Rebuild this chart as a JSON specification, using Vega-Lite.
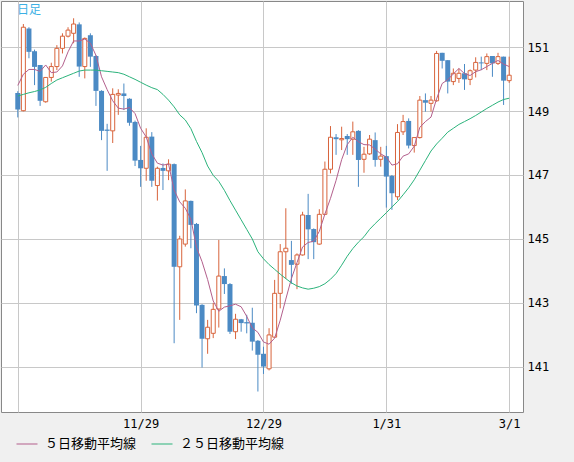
{
  "$schema": "https://vega.github.io/schema/vega-lite/v6.json",
  "width": 522,
  "height": 411,
  "autosize": "none",
  "padding": {"left": 1, "top": 1, "right": 51, "bottom": 50},
  "background": "#f0f0f0",
  "title": {
    "text": "日足",
    "anchor": "start",
    "frame": "group",
    "dx": 16,
    "offset": -16,
    "color": "#3cb0e4",
    "font": "Noto Sans CJK JP",
    "fontSize": 12,
    "fontWeight": "normal"
  },
  "config": {
    "view": {"stroke": "#888888", "fill": "white"}
  },
  "data": {
    "values": [
      {"date": "10/30", "i": 0, "open": 149.56, "high": 149.62, "low": 148.80, "close": 149.05, "ma5": 149.80, "ma25": 149.47},
      {"date": "10/31", "i": 1, "open": 149.01, "high": 151.72, "low": 148.99, "close": 151.62, "ma5": 150.15, "ma25": 149.52},
      {"date": "11/1", "i": 2, "open": 151.58, "high": 151.62, "low": 150.65, "close": 150.85, "ma5": 150.30, "ma25": 149.57},
      {"date": "11/2", "i": 3, "open": 150.87, "high": 150.92, "low": 149.81, "close": 150.38, "ma5": 150.30, "ma25": 149.61},
      {"date": "11/3", "i": 4, "open": 150.44, "high": 150.44, "low": 149.16, "close": 149.32, "ma5": 150.24, "ma25": 149.66},
      {"date": "11/6", "i": 5, "open": 149.29, "high": 150.06, "low": 149.26, "close": 150.05, "ma5": 150.44, "ma25": 149.74},
      {"date": "11/7", "i": 6, "open": 150.05, "high": 150.51, "low": 149.92, "close": 150.39, "ma5": 150.20, "ma25": 149.86},
      {"date": "11/8", "i": 7, "open": 150.39, "high": 151.06, "low": 150.28, "close": 150.96, "ma5": 150.22, "ma25": 149.97},
      {"date": "11/9", "i": 8, "open": 150.96, "high": 151.43, "low": 150.80, "close": 151.34, "ma5": 150.41, "ma25": 150.04},
      {"date": "11/10", "i": 9, "open": 151.34, "high": 151.62, "low": 151.30, "close": 151.53, "ma5": 150.85, "ma25": 150.11},
      {"date": "11/13", "i": 10, "open": 151.43, "high": 151.90, "low": 151.12, "close": 151.72, "ma5": 151.19, "ma25": 150.18},
      {"date": "11/14", "i": 11, "open": 151.71, "high": 151.77, "low": 150.07, "close": 150.39, "ma5": 151.19, "ma25": 150.25},
      {"date": "11/15", "i": 12, "open": 150.39, "high": 151.30, "low": 150.02, "close": 151.27, "ma5": 151.25, "ma25": 150.28},
      {"date": "11/16", "i": 13, "open": 151.37, "high": 151.43, "low": 150.38, "close": 150.70, "ma5": 151.12, "ma25": 150.28},
      {"date": "11/17", "i": 14, "open": 150.72, "high": 150.75, "low": 149.16, "close": 149.63, "ma5": 150.74, "ma25": 150.28},
      {"date": "11/20", "i": 15, "open": 149.63, "high": 149.65, "low": 148.09, "close": 148.38, "ma5": 150.07, "ma25": 150.26},
      {"date": "11/21", "i": 16, "open": 148.42, "high": 148.60, "low": 147.13, "close": 148.38, "ma5": 149.67, "ma25": 150.24},
      {"date": "11/22", "i": 17, "open": 148.38, "high": 149.71, "low": 148.00, "close": 149.52, "ma5": 149.32, "ma25": 150.22},
      {"date": "11/23", "i": 18, "open": 149.50, "high": 149.68, "low": 148.88, "close": 149.55, "ma5": 149.09, "ma25": 150.20},
      {"date": "11/24", "i": 19, "open": 149.55, "high": 149.86, "low": 149.03, "close": 149.47, "ma5": 149.06, "ma25": 150.15},
      {"date": "11/27", "i": 20, "open": 149.38, "high": 149.40, "low": 148.54, "close": 148.63, "ma5": 149.11, "ma25": 150.07},
      {"date": "11/28", "i": 21, "open": 148.66, "high": 148.70, "low": 147.28, "close": 147.45, "ma5": 148.92, "ma25": 149.99},
      {"date": "11/29", "i": 22, "open": 147.47, "high": 147.91, "low": 146.63, "close": 147.21, "ma5": 148.46, "ma25": 149.90},
      {"date": "11/30", "i": 23, "open": 147.21, "high": 148.46, "low": 146.82, "close": 148.18, "ma5": 148.19, "ma25": 149.81},
      {"date": "12/1", "i": 24, "open": 148.20, "high": 148.34, "low": 146.63, "close": 146.82, "ma5": 147.66, "ma25": 149.73},
      {"date": "12/4", "i": 25, "open": 146.67, "high": 147.26, "low": 146.20, "close": 147.21, "ma5": 147.37, "ma25": 149.67},
      {"date": "12/5", "i": 26, "open": 147.22, "high": 147.36, "low": 146.53, "close": 147.13, "ma5": 147.31, "ma25": 149.52},
      {"date": "12/6", "i": 27, "open": 147.13, "high": 147.49, "low": 146.84, "close": 147.34, "ma5": 147.34, "ma25": 149.34},
      {"date": "12/7", "i": 28, "open": 147.34, "high": 147.36, "low": 141.74, "close": 144.13, "ma5": 146.53, "ma25": 149.13},
      {"date": "12/8", "i": 29, "open": 144.13, "high": 145.10, "low": 142.47, "close": 145.00, "ma5": 146.16, "ma25": 148.88},
      {"date": "12/11", "i": 30, "open": 144.84, "high": 146.55, "low": 144.76, "close": 146.19, "ma5": 145.96, "ma25": 148.72},
      {"date": "12/12", "i": 31, "open": 146.19, "high": 146.20, "low": 144.71, "close": 145.44, "ma5": 145.62, "ma25": 148.45},
      {"date": "12/13", "i": 32, "open": 145.47, "high": 145.50, "low": 142.68, "close": 142.92, "ma5": 144.74, "ma25": 148.05},
      {"date": "12/14", "i": 33, "open": 142.94, "high": 142.96, "low": 140.98, "close": 141.88, "ma5": 144.29, "ma25": 147.70},
      {"date": "12/15", "i": 34, "open": 141.88, "high": 142.47, "low": 141.41, "close": 142.24, "ma5": 143.73, "ma25": 147.28},
      {"date": "12/18", "i": 35, "open": 142.05, "high": 143.00, "low": 141.90, "close": 142.80, "ma5": 143.06, "ma25": 146.99},
      {"date": "12/19", "i": 36, "open": 142.81, "high": 144.97, "low": 142.23, "close": 143.84, "ma5": 142.74, "ma25": 146.80},
      {"date": "12/20", "i": 37, "open": 143.84, "high": 144.08, "low": 143.28, "close": 143.59, "ma5": 142.87, "ma25": 146.52},
      {"date": "12/21", "i": 38, "open": 143.59, "high": 143.62, "low": 142.03, "close": 142.10, "ma5": 142.91, "ma25": 146.20},
      {"date": "12/22", "i": 39, "open": 142.10, "high": 142.66, "low": 141.87, "close": 142.49, "ma5": 142.96, "ma25": 145.90},
      {"date": "12/25", "i": 40, "open": 142.49, "high": 142.50, "low": 142.10, "close": 142.37, "ma5": 142.88, "ma25": 145.60},
      {"date": "12/26", "i": 41, "open": 142.40, "high": 142.63, "low": 142.05, "close": 142.36, "ma5": 142.58, "ma25": 145.30},
      {"date": "12/27", "i": 42, "open": 142.38, "high": 142.85, "low": 141.51, "close": 141.79, "ma5": 142.22, "ma25": 145.00},
      {"date": "12/28", "i": 43, "open": 141.82, "high": 141.84, "low": 140.23, "close": 141.38, "ma5": 142.08, "ma25": 144.60},
      {"date": "12/29", "i": 44, "open": 141.41, "high": 141.63, "low": 140.78, "close": 141.01, "ma5": 141.78, "ma25": 144.38},
      {"date": "1/2", "i": 45, "open": 140.94, "high": 142.21, "low": 140.89, "close": 142.00, "ma5": 141.71, "ma25": 144.20},
      {"date": "1/3", "i": 46, "open": 141.93, "high": 143.72, "low": 141.92, "close": 143.30, "ma5": 141.90, "ma25": 144.05},
      {"date": "1/4", "i": 47, "open": 143.30, "high": 144.84, "low": 142.83, "close": 144.60, "ma5": 142.46, "ma25": 143.90},
      {"date": "1/5", "i": 48, "open": 144.60, "high": 145.96, "low": 143.75, "close": 144.71, "ma5": 143.12, "ma25": 143.76},
      {"date": "1/8", "i": 49, "open": 144.34, "high": 144.94, "low": 143.60, "close": 144.19, "ma5": 143.76, "ma25": 143.63},
      {"date": "1/9", "i": 50, "open": 144.21, "high": 144.55, "low": 143.43, "close": 144.50, "ma5": 144.26, "ma25": 143.53},
      {"date": "1/10", "i": 51, "open": 144.50, "high": 145.85, "low": 144.48, "close": 145.75, "ma5": 144.75, "ma25": 143.47},
      {"date": "1/11", "i": 52, "open": 145.75, "high": 146.41, "low": 144.37, "close": 145.30, "ma5": 144.89, "ma25": 143.43},
      {"date": "1/12", "i": 53, "open": 145.31, "high": 145.33, "low": 144.37, "close": 144.90, "ma5": 144.93, "ma25": 143.46},
      {"date": "1/15", "i": 54, "open": 144.84, "high": 145.93, "low": 144.82, "close": 145.77, "ma5": 145.24, "ma25": 143.51},
      {"date": "1/16", "i": 55, "open": 145.77, "high": 147.42, "low": 145.75, "close": 147.18, "ma5": 145.78, "ma25": 143.60},
      {"date": "1/17", "i": 56, "open": 147.18, "high": 148.53, "low": 147.05, "close": 148.18, "ma5": 146.27, "ma25": 143.74},
      {"date": "1/18", "i": 57, "open": 148.18, "high": 148.28, "low": 147.63, "close": 148.12, "ma5": 146.83, "ma25": 143.92},
      {"date": "1/19", "i": 58, "open": 148.10, "high": 148.51, "low": 147.78, "close": 148.14, "ma5": 147.48, "ma25": 144.18},
      {"date": "1/22", "i": 59, "open": 148.22, "high": 148.28, "low": 147.63, "close": 148.12, "ma5": 147.95, "ma25": 144.46},
      {"date": "1/23", "i": 60, "open": 148.12, "high": 148.67, "low": 147.63, "close": 148.35, "ma5": 148.18, "ma25": 144.70},
      {"date": "1/24", "i": 61, "open": 148.38, "high": 148.40, "low": 146.63, "close": 147.47, "ma5": 148.04, "ma25": 144.90},
      {"date": "1/25", "i": 62, "open": 147.49, "high": 147.88, "low": 147.07, "close": 147.65, "ma5": 147.95, "ma25": 145.07},
      {"date": "1/26", "i": 63, "open": 147.66, "high": 148.25, "low": 147.63, "close": 148.12, "ma5": 147.94, "ma25": 145.30},
      {"date": "1/29", "i": 64, "open": 148.09, "high": 148.33, "low": 147.26, "close": 147.47, "ma5": 147.81, "ma25": 145.48},
      {"date": "1/30", "i": 65, "open": 147.49, "high": 147.88, "low": 147.26, "close": 147.59, "ma5": 147.66, "ma25": 145.65},
      {"date": "1/31", "i": 66, "open": 147.59, "high": 147.91, "low": 145.98, "close": 146.95, "ma5": 147.56, "ma25": 145.82},
      {"date": "2/1", "i": 67, "open": 146.97, "high": 147.00, "low": 145.91, "close": 146.43, "ma5": 147.31, "ma25": 146.00},
      {"date": "2/2", "i": 68, "open": 146.32, "high": 148.59, "low": 146.22, "close": 148.33, "ma5": 147.35, "ma25": 146.17},
      {"date": "2/5", "i": 69, "open": 148.35, "high": 148.88, "low": 148.25, "close": 148.67, "ma5": 147.59, "ma25": 146.38},
      {"date": "2/6", "i": 70, "open": 148.69, "high": 148.77, "low": 147.83, "close": 147.92, "ma5": 147.66, "ma25": 146.60},
      {"date": "2/7", "i": 71, "open": 147.92, "high": 148.05, "low": 147.70, "close": 148.17, "ma5": 147.90, "ma25": 146.85},
      {"date": "2/8", "i": 72, "open": 148.17, "high": 149.47, "low": 148.14, "close": 149.34, "ma5": 148.49, "ma25": 147.15},
      {"date": "2/9", "i": 73, "open": 149.34, "high": 149.55, "low": 148.98, "close": 149.26, "ma5": 148.67, "ma25": 147.45},
      {"date": "2/12", "i": 74, "open": 149.24, "high": 149.47, "low": 148.98, "close": 149.34, "ma5": 148.81, "ma25": 147.75},
      {"date": "2/13", "i": 75, "open": 149.32, "high": 150.88, "low": 149.29, "close": 150.80, "ma5": 149.38, "ma25": 147.97},
      {"date": "2/14", "i": 76, "open": 150.82, "high": 150.82, "low": 150.33, "close": 150.57, "ma5": 149.86, "ma25": 148.15},
      {"date": "2/15", "i": 77, "open": 150.59, "high": 150.59, "low": 149.55, "close": 149.92, "ma5": 149.98, "ma25": 148.34},
      {"date": "2/16", "i": 78, "open": 149.92, "high": 150.33, "low": 149.81, "close": 150.18, "ma5": 150.16, "ma25": 148.46},
      {"date": "2/19", "i": 79, "open": 150.02, "high": 150.33, "low": 149.88, "close": 150.18, "ma5": 150.33, "ma25": 148.58},
      {"date": "2/20", "i": 80, "open": 150.18, "high": 150.47, "low": 149.66, "close": 149.99, "ma5": 150.17, "ma25": 148.67},
      {"date": "2/21", "i": 81, "open": 149.99, "high": 150.30, "low": 149.81, "close": 150.26, "ma5": 150.11, "ma25": 148.76},
      {"date": "2/22", "i": 82, "open": 150.28, "high": 150.68, "low": 150.05, "close": 150.52, "ma5": 150.23, "ma25": 148.86},
      {"date": "2/23", "i": 83, "open": 150.52, "high": 150.70, "low": 150.28, "close": 150.49, "ma5": 150.29, "ma25": 148.97},
      {"date": "2/26", "i": 84, "open": 150.49, "high": 150.80, "low": 150.28, "close": 150.70, "ma5": 150.39, "ma25": 149.08},
      {"date": "2/27", "i": 85, "open": 150.72, "high": 150.72, "low": 150.07, "close": 150.49, "ma5": 150.49, "ma25": 149.18},
      {"date": "2/28", "i": 86, "open": 150.49, "high": 150.82, "low": 150.44, "close": 150.70, "ma5": 150.58, "ma25": 149.28},
      {"date": "2/29", "i": 87, "open": 150.70, "high": 150.70, "low": 149.19, "close": 149.95, "ma5": 150.47, "ma25": 149.36},
      {"date": "3/1", "i": 88, "open": 149.95, "high": 150.70, "low": 149.88, "close": 150.12, "ma5": 150.39, "ma25": 149.40}
    ]
  },
  "encoding": {
    "x": {
      "field": "i",
      "type": "quantitative",
      "scale": {"domain": [-2.11, 89.58], "nice": false, "zero": false},
      "axis": {
        "orient": "bottom",
        "values": [0, 22, 44, 66, 88],
        "labelExpr": "datum.value == 22 ? '11/29' : datum.value == 44 ? '12/29' : datum.value == 66 ? '1/31' : datum.value == 88 ? '3/1' : ''",
        "title": null,
        "grid": true,
        "gridColor": "#c8c8c8",
        "domain": false,
        "ticks": false,
        "labelFlush": false,
        "labelPadding": 6,
        "labelFont": "DejaVu Sans Mono",
        "labelFontSize": 12,
        "labelColor": "#000000"
      }
    }
  },
  "layer": [
    {
      "mark": {"type": "rule", "strokeWidth": 1},
      "encoding": {
        "y": {
          "field": "low",
          "type": "quantitative",
          "scale": {"domain": [139.59, 152.44], "nice": false, "zero": false},
          "axis": {
            "orient": "right",
            "values": [141, 143, 145, 147, 149, 151],
            "title": null,
            "grid": true,
            "gridColor": "#c8c8c8",
            "domain": false,
            "ticks": false,
            "labelPadding": 4,
            "labelFont": "DejaVu Sans Mono",
            "labelFontSize": 12,
            "labelColor": "#000000"
          }
        },
        "y2": {"field": "high"},
        "color": {
          "condition": {"test": "datum.close >= datum.open", "value": "#d8643c"},
          "value": "#4b8ac4"
        }
      }
    },
    {
      "transform": [{"filter": "datum.close < datum.open"}],
      "mark": {"type": "bar", "size": 5, "fill": "#4b8ac4"},
      "encoding": {
        "y": {"field": "open", "type": "quantitative", "title": null},
        "y2": {"field": "close"}
      }
    },
    {
      "transform": [{"filter": "datum.close >= datum.open"}],
      "mark": {"type": "bar", "size": 4, "fill": "#ffffff", "stroke": "#d8643c", "strokeWidth": 1},
      "encoding": {
        "y": {"field": "open", "type": "quantitative", "title": null},
        "y2": {"field": "close"}
      }
    },
    {
      "transform": [{"fold": ["ma5", "ma25"], "as": ["series", "value"]}],
      "mark": {"type": "line", "strokeWidth": 1, "clip": true},
      "encoding": {
        "y": {"field": "value", "type": "quantitative", "title": null},
        "color": {
          "field": "series",
          "type": "nominal",
          "scale": {"domain": ["ma5", "ma25"], "range": ["#b35f8c", "#2bb37b"]},
          "legend": {
            "orient": "none",
            "legendX": 15,
            "legendY": 432,
            "direction": "horizontal",
            "title": null,
            "padding": 0,
            "symbolType": "stroke",
            "symbolSize": 441,
            "symbolStrokeWidth": 1,
            "labelOffset": 7,
            "columnPadding": 12,
            "labelFont": "Noto Sans CJK JP",
            "labelFontSize": 13,
            "labelColor": "#000000",
            "labelExpr": "datum.label == 'ma5' ? '５日移動平均線' : '２５日移動平均線'"
          }
        }
      }
    }
  ]
}
